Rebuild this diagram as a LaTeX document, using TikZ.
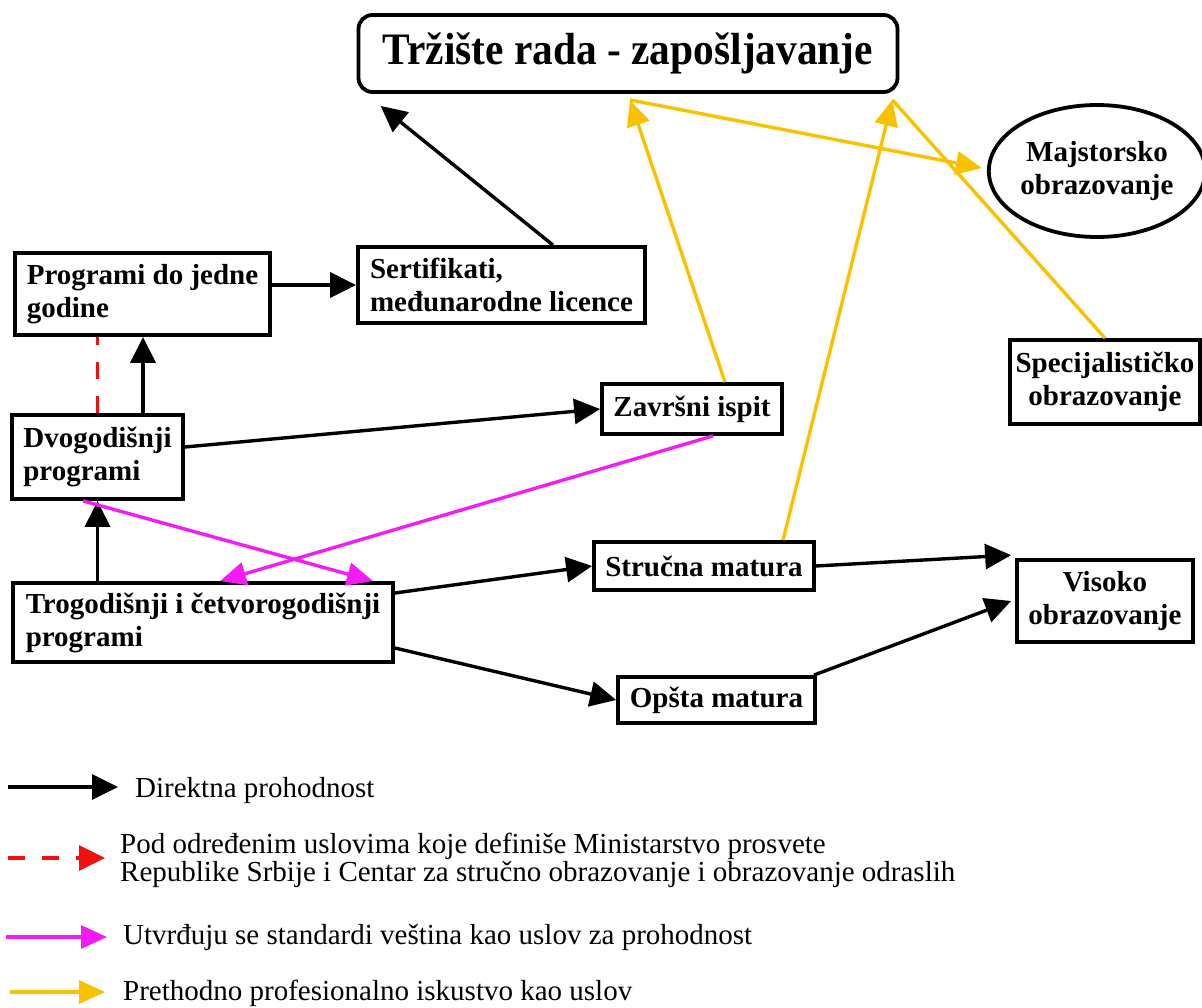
\documentclass[tikz,border=0pt]{standalone}
\usepackage{fontspec}
\setmainfont{Liberation Serif}
\newfontfamily\headfont{Liberation Serif}[FakeStretch=0.92]
\usetikzlibrary{arrows.meta,shapes.geometric,calc}
\definecolor{gold}{HTML}{F8C200}
\definecolor{pink}{HTML}{F41CF4}
\definecolor{alertred}{HTML}{F01010}

\begin{document}
\begin{tikzpicture}[x=1pt,y=-1pt,
  box/.style={draw, line width=3.8pt, inner sep=0pt, font=\fontsize{29}{33}\selectfont\bfseries},
  lbox/.style={box, align=left},
  cbox/.style={box, align=center},
  legend/.style={inner sep=0pt, font=\fontsize{29}{28}\selectfont},
  direct/.style={line width=3.4pt, -{Triangle[length=26pt,width=25pt]}},
  cond/.style={line width=3.4pt, color=alertred, dash pattern=on 17pt off 17pt},
  skill/.style={line width=3.4pt, color=pink, -{Triangle[length=26pt,width=23pt]}},
  exper/.style={line width=3.4pt, color=gold, -{Triangle[length=26pt,width=23pt]}},
  experline/.style={line width=3.4pt, color=gold}
]
\useasboundingbox (0,0) rectangle (1202,1007);

% --- boxes ---
\node[cbox, rounded corners=14pt, minimum width=539pt, minimum height=77pt,
      font=\headfont\fontsize{45}{48}\selectfont\bfseries] (market) at (628,53.5) {Tržište rada - zapošljavanje};
\node[lbox, minimum width=255pt, minimum height=82pt] (oneyear) at (142.5,294) {Programi do jedne\\godine};
\node[lbox, minimum width=287pt, minimum height=76pt] (cert) at (501.5,285) {Sertifikati,\\međunarodne licence};
\node[lbox, minimum width=171pt, minimum height=84pt] (twoyear) at (97.5,457) {Dvogodišnji\\programi};
\node[lbox, minimum width=380pt, minimum height=79pt] (threefour) at (203,622.5) {Trogodišnji i četvorogodišnji\\programi};
\node[cbox, minimum width=180pt, minimum height=50pt] (final) at (692,409) {Završni ispit};
\node[cbox, minimum width=220pt, minimum height=48pt] (vocmat) at (704,566) {Stručna matura};
\node[cbox, minimum width=197pt, minimum height=46pt] (genmat) at (716.5,700) {Opšta matura};
\node[cbox, minimum width=176pt, minimum height=82pt] (higher) at (1105,601) {Visoko\\obrazovanje};
\node[cbox, minimum width=190pt, minimum height=84pt] (special) at (1105,382) {Specijalističko\\obrazovanje};
\node[cbox, ellipse, minimum width=208pt, minimum height=132pt] (master) at (1097,171) {Majstorsko\\obrazovanje};

% meeting points just under the labour-market box
\coordinate (m1) at ([shift={(2pt,-6pt)}]market.south);
\coordinate (m2) at ([shift={(-7pt,-6pt)}]market.south east);

% --- direct paths ---
\draw[direct] (oneyear.east |- cert.west) -- (cert.west);
\draw[direct] ([xshift=51.5pt]cert.north) -- ([shift={(24pt,-12pt)}]market.south west);
\draw[direct] ([xshift=45.5pt]twoyear.north) -- ([xshift=45.5pt]twoyear.north |- oneyear.south);
\draw[cond] (twoyear.north) -- (twoyear.north |- oneyear.south);
\draw[direct] ([yshift=10pt]twoyear.east) -- (final.west);
\draw[direct] (threefour.north -| twoyear.south) -- (twoyear.south);
\draw[direct] ([yshift=29.5pt]threefour.east) -- (vocmat.west);
\draw[direct] ([yshift=-25.5pt]threefour.east) -- (genmat.west);
\draw[direct] (vocmat.east) -- ([shift={(-4pt,3pt)}]higher.north west);
\draw[direct] ([xshift=-3pt]genmat.north east) -- ([xshift=-4pt]higher.west);

% --- skill standards ---
\draw[skill] ([xshift=-14.5pt]twoyear.south) -- ([xshift=170pt]threefour.north);
\draw[skill] ([xshift=21pt]final.south) -- ([xshift=17pt]threefour.north);

% --- prior professional experience ---
\draw[exper] ([xshift=33pt]final.north) -- (m1);
\draw[exper] (m1) -- ([shift={(-5pt,3pt)}]master.west);
\draw[exper] ([xshift=79pt]vocmat.north) -- (m2);
\draw[experline] (special.north) -- (m2);

% --- legend ---
\node[legend, anchor=base west] (lgdirect) at (135,797) {Direktna prohodnost};
\node[legend, anchor=north west, align=left] (lgcond) at (120,833)
  {Pod određenim uslovima koje definiše Ministarstvo prosvete\\Republike Srbije i Centar za stručno obrazovanje i obrazovanje odraslih};
\node[legend, anchor=base west] (lgskill) at (123,944) {Utvrđuju se standardi veština kao uslov za prohodnost};
\node[legend, anchor=base west] (lgexper) at (123,1000) {Prethodno profesionalno iskustvo kao uslov};

\coordinate (k1s) at (8,787);   \coordinate (k1e) at (118,787);
\coordinate (k2s) at (8,858);   \coordinate (k2e) at (105,858);
\coordinate (k3s) at (6,937);   \coordinate (k3e) at (107,937);
\coordinate (k4s) at (10,992);  \coordinate (k4e) at (105,992);
\draw[direct] (k1s) -- (k1e);
\draw[cond, -{Triangle[length=26pt,width=25pt]}] (k2s) -- (k2e);
\draw[skill] (k3s) -- (k3e);
\draw[exper] (k4s) -- (k4e);
\end{tikzpicture}
\end{document}
